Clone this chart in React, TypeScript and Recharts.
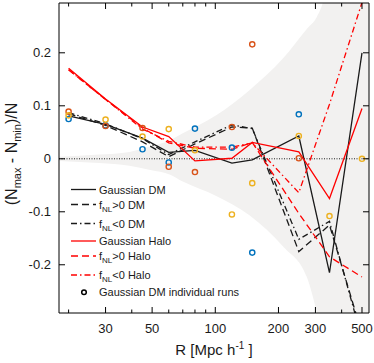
import React from 'react';
import { ComposedChart, Line, Area, Scatter, XAxis, YAxis, ReferenceLine } from 'recharts';

const FONT = '"Liberation Sans", Arial, Helvetica, sans-serif';

// radii where the curves are sampled, Mpc/h
const R = [20, 30, 45, 60, 80, 120, 150, 250, 350, 500];

const gaussDM = [0.081, 0.065, 0.039, 0.012, 0.016, -0.008, -0.002, 0.043, -0.215, 0.2];
const fnlPosDM = [0.085, 0.063, 0.032, 0.004, 0.028, 0.060, 0.058, -0.175, -0.125, -0.33];
const fnlNegDM = [0.087, 0.066, 0.038, 0.008, 0.032, 0.064, 0.057, -0.152, -0.118, -0.34];
const gaussHalo = [0.171, 0.113, 0.060, 0.042, -0.004, 0.001, 0.031, 0.013, -0.075, 0.095];
const fnlPosHalo = [0.168, 0.112, 0.058, 0.030, 0.020, 0.018, 0.031, -0.103, -0.185, -0.223];
const fnlNegHalo = [0.168, 0.112, 0.056, 0.033, 0.022, 0.022, 0.030, -0.064, 0.103, 0.295];

// individual Gaussian DM runs (null = off the plot)
const runBlue = [0.075, 0.063, 0.018, -0.007, 0.057, 0.021, -0.177, 0.084, null, null];
const runOrange = [0.089, 0.062, 0.058, -0.015, -0.025, 0.060, 0.216, 0.001, null, null];
const runYellow = [0.082, 0.074, 0.042, 0.056, 0.016, -0.105, -0.046, 0.043, -0.108, 0.0];

// grey scatter envelope
const bandR = [18, 28, 39, 49, 61, 70, 101, 146, 211, 273, 305, 328, 540];
const bandHi = [0.004, 0.008, 0.013, 0.023, 0.035, 0.048, 0.082, 0.13, 0.19, 0.245, 0.268, 0.3, 1.5];
const bandLo = [-0.004, -0.008, -0.013, -0.021, -0.03, -0.043, -0.07, -0.107, -0.166, -0.223, -0.291, -0.35, -1.5];

const xTicks = [20, 30, 40, 50, 60, 70, 80, 90, 100, 200, 300, 400, 500];
const xLabeled = [30, 50, 100, 200, 300, 500];
const yTicks = [-0.2, -0.1, 0, 0.1, 0.2];

const rows = R.map((r, i) => ({
  r,
  gaussDM: gaussDM[i],
  fnlPosDM: fnlPosDM[i],
  fnlNegDM: fnlNegDM[i],
  gaussHalo: gaussHalo[i],
  fnlPosHalo: fnlPosHalo[i],
  fnlNegHalo: fnlNegHalo[i],
}));

const band = bandR.map((r, i) => ({ r, range: [bandLo[i], bandHi[i]] }));

const runPoints = (vals: (number | null)[]) =>
  R.map((r, i) => ({ r, v: vals[i] })).filter((p) => p.v != null);

const ring = (color: string) => (p: any) =>
  <circle cx={p.cx} cy={p.cy} r={2.6} fill="none" stroke={color} strokeWidth={1.4} />;

function BottomTick({ x, y, payload }: any) {
  const v = payload.value;
  const major = xLabeled.includes(v);
  return (
    <g>
      <line x1={x} x2={x} y1={y} y2={y - (major ? 6 : 3.5)} stroke="#000" />
      {major && (
        <text x={x} y={y + 20} textAnchor="middle" fontSize={13} fontFamily={FONT} fill="#1a1a1a">{v}</text>
      )}
    </g>
  );
}

function TopTick({ x, y, payload }: any) {
  const major = xLabeled.includes(payload.value);
  return <line x1={x} x2={x} y1={y} y2={y + (major ? 6 : 3.5)} stroke="#000" />;
}

function LeftTick({ x, y, payload }: any) {
  return (
    <g>
      <line x1={x} x2={x + 6} y1={y} y2={y} stroke="#000" />
      <text x={x - 8} y={y + 4.5} textAnchor="end" fontSize={13} fontFamily={FONT} fill="#1a1a1a">
        {payload.value}
      </text>
    </g>
  );
}

function RightTick({ x, y }: any) {
  return <line x1={x} x2={x - 6} y1={y} y2={y} stroke="#000" />;
}

const BLACK = '#1a1a1a';
const RED = '#ff0000';
const DASH = '7 4';
const DASHDOT = '6 3 1.5 3';

const legendRows = [
  { label: 'Gaussian DM', color: BLACK, dash: undefined, y: 189.5, fnl: '' },
  { label: '>0 DM', color: BLACK, dash: DASH, y: 204.5, fnl: 'f' },
  { label: '<0 DM', color: BLACK, dash: DASHDOT, y: 223.5, fnl: 'f' },
  { label: 'Gaussian Halo', color: RED, dash: undefined, y: 241, fnl: '' },
  { label: '>0 Halo', color: RED, dash: DASH, y: 256, fnl: 'f' },
  { label: '<0 Halo', color: RED, dash: DASHDOT, y: 275, fnl: 'f' },
];

function Overlay() {
  return (
    <svg width={374} height={363} style={{ position: 'absolute', left: 0, top: 0, pointerEvents: 'none' }}>
      <g fontFamily={FONT} fill="#1a1a1a">
        {legendRows.map((row) => (
          <g key={row.label}>
            <line x1={71} x2={96} y1={row.y} y2={row.y} stroke={row.color} strokeWidth={1.3} strokeDasharray={row.dash} />
            <text x={99} y={row.y + 4} fontSize={11}>
              {row.fnl ? (
                <>
                  f<tspan dy={3} fontSize={8}>NL</tspan><tspan dy={-3}>{row.label}</tspan>
                </>
              ) : row.label}
            </text>
          </g>
        ))}
        <circle cx={84} cy={292.3} r={2.3} fill="none" stroke="#000" strokeWidth={1.5} />
        <text x={99} y={296.3} fontSize={11}>Gaussian DM individual runs</text>

        <text x={214} y={355} fontSize={15} textAnchor="middle">
          R [Mpc h<tspan dy={-6} fontSize={10}>-1</tspan><tspan dy={6}> ]</tspan>
        </text>
        <text transform="translate(17,154) rotate(-90)" fontSize={16} textAnchor="middle">
          (N<tspan dy={4} fontSize={11}>max</tspan><tspan dy={-4}> - N</tspan>
          <tspan dy={4} fontSize={11}>min</tspan><tspan dy={-4}>)/N</tspan>
        </text>
      </g>
    </svg>
  );
}

export default function App() {
  return (
    <div style={{ position: 'absolute', left: 0, top: 0, width: 374, height: 363, background: '#fff' }}>
      <ComposedChart width={374} height={363} data={rows} margin={{ top: 0, right: 0, bottom: 0, left: 0 }}>
        <XAxis
          dataKey="r" type="number" scale="log" domain={[18, 540]} allowDataOverflow
          ticks={xTicks} interval={0} tickSize={0} tickMargin={0} height={50}
          axisLine={{ stroke: '#000' }} tickLine={false} tick={<BottomTick />}
        />
        <XAxis
          xAxisId="top" orientation="top" dataKey="r" type="number" scale="log" domain={[18, 540]} allowDataOverflow
          ticks={xTicks} interval={0} tickSize={0} tickMargin={0} height={3}
          axisLine={{ stroke: '#000' }} tickLine={false} tick={<TopTick />}
        />
        <YAxis
          type="number" domain={[-0.291, 0.294]} allowDataOverflow ticks={yTicks} interval={0}
          tickSize={0} tickMargin={0} width={59}
          axisLine={{ stroke: '#000' }} tickLine={false} tick={<LeftTick />}
        />
        <YAxis
          yAxisId="right" orientation="right" type="number" domain={[-0.291, 0.294]} allowDataOverflow
          ticks={yTicks} interval={0} tickSize={0} tickMargin={0} width={5}
          axisLine={{ stroke: '#000' }} tickLine={false} tick={<RightTick />}
        />

        <Area
          data={band} dataKey="range" type="monotone" stroke="none" fill="#f2f1f0" fillOpacity={1}
          isAnimationActive={false} activeDot={false}
        />
        <ReferenceLine y={0} stroke="#222" strokeDasharray="1 1.5" strokeWidth={1} />

        <Line dataKey="gaussDM" type="linear" stroke={BLACK} strokeWidth={1.3} dot={false} isAnimationActive={false} />
        <Line dataKey="fnlPosDM" type="linear" stroke={BLACK} strokeWidth={1.3} strokeDasharray={DASH} dot={false} isAnimationActive={false} />
        <Line dataKey="fnlNegDM" type="linear" stroke={BLACK} strokeWidth={1.3} strokeDasharray={DASHDOT} dot={false} isAnimationActive={false} />
        <Line dataKey="gaussHalo" type="linear" stroke={RED} strokeWidth={1.3} dot={false} isAnimationActive={false} />
        <Line dataKey="fnlPosHalo" type="linear" stroke={RED} strokeWidth={1.3} strokeDasharray={DASH} dot={false} isAnimationActive={false} />
        <Line dataKey="fnlNegHalo" type="linear" stroke={RED} strokeWidth={1.3} strokeDasharray={DASHDOT} dot={false} isAnimationActive={false} />

        <Scatter data={runPoints(runBlue)} dataKey="v" shape={ring('#0072bd')} isAnimationActive={false} />
        <Scatter data={runPoints(runOrange)} dataKey="v" shape={ring('#d95319')} isAnimationActive={false} />
        <Scatter data={runPoints(runYellow)} dataKey="v" shape={ring('#edb120')} isAnimationActive={false} />
      </ComposedChart>
      <Overlay />
    </div>
  );
}
